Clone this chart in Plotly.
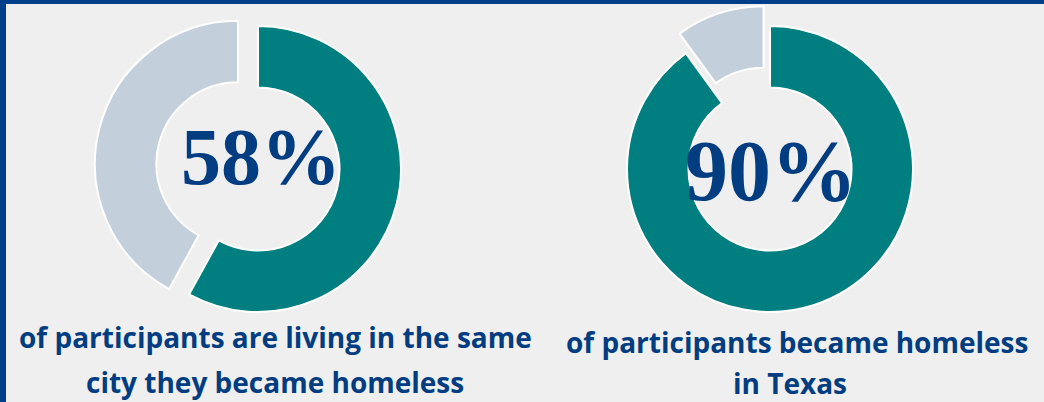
import plotly.graph_objects as go

W, H = 1044, 402

# Data
labels = ["Yes", "No"]
values_left = [58, 42]
values_right = [90, 10]
center_texts = ["58%", "90%"]
caption_left = ["of participants are living in the same", "city they became homeless"]
caption_right = ["of participants became homeless", "in Texas"]

TEAL = "#007e80"
GREY = "#c3cfdb"
BG = "#efefef"
NAVY = "#013d80"
BORDER = "#023f8b"

R = 143.0
PULL = 0.145
half = R * (1 + PULL)

def dom(cx, cy):
    return dict(x=[(cx - half) / W, (cx + half) / W],
                y=[1 - (cy + half) / H, 1 - (cy - half) / H])

fig = go.Figure()
for vals, (cx, cy) in [(values_left, (258, 169)), (values_right, (770, 169))]:
    fig.add_trace(go.Pie(
        labels=labels, values=vals, hole=0.57, sort=False,
        direction="clockwise", rotation=0,
        pull=[0, PULL],
        marker=dict(colors=[TEAL, GREY], line=dict(color="white", width=2)),
        textinfo="none", hoverinfo="skip", showlegend=False,
        domain=dom(cx, cy),
    ))

def ann(txt, x, y, size, family):
    fig.add_annotation(x=x / W, y=1 - y / H, xref="paper", yref="paper",
                       text=txt, showarrow=False, xanchor="center", yanchor="middle",
                       align="center",
                       font=dict(family=family, size=size, color=NAVY, weight="bold"))

# center numbers
ann(center_texts[0], 261, 157, 80, "Liberation Serif")
ann(center_texts[1], 771, 171, 86, "Liberation Serif")

# captions
ann(caption_left[0], 275, 337, 28, "Open Sans")
ann(caption_left[1], 275, 382, 28, "Open Sans")
ann(caption_right[0], 797, 342, 28, "Open Sans")
ann(caption_right[1], 790, 383, 28, "Open Sans")

# borders
fig.add_shape(type="rect", xref="paper", yref="paper", x0=0, x1=1, y0=1 - 4 / H, y1=1,
              fillcolor=BORDER, line_width=0, layer="above")
fig.add_shape(type="rect", xref="paper", yref="paper", x0=0, x1=6 / W, y0=0, y1=1,
              fillcolor=BORDER, line_width=0, layer="above")

fig.update_layout(width=W, height=H, margin=dict(l=0, r=0, t=0, b=0),
                  paper_bgcolor=BG, plot_bgcolor=BG)
fig.write_html("out.html", config={"displayModeBar": False},
               post_script="document.body.style.margin='0';document.body.style.overflow='hidden';")
